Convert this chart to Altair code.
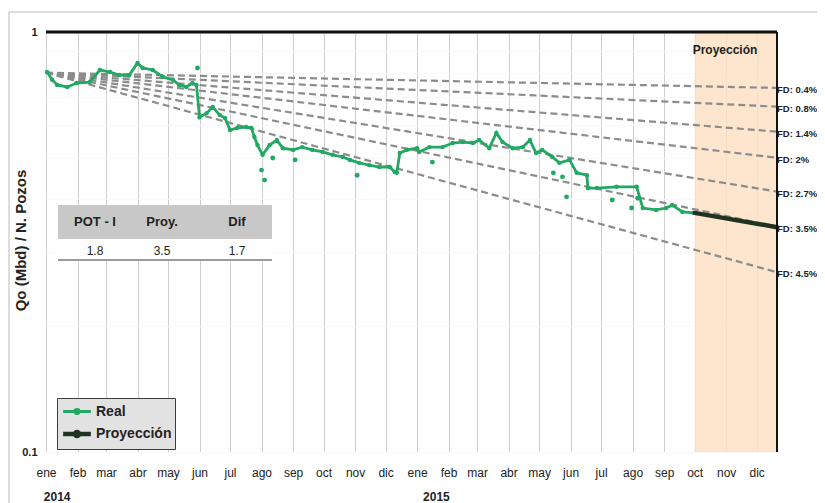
import altair as alt
import pandas as pd

# ---------------- data ----------------
months_es = ["ene", "feb", "mar", "abr", "may", "jun", "jul", "ago", "sep", "oct", "nov", "dic"]

real_dates = [
    "2014-01-02", "2014-01-07", "2014-01-12", "2014-01-22", "2014-01-31", "2014-02-13", "2014-02-23",
    "2014-03-05", "2014-03-14", "2014-03-24", "2014-04-01", "2014-04-06", "2014-04-16",
    "2014-04-26", "2014-05-06", "2014-05-12", "2014-05-19", "2014-05-25", "2014-05-29",
    "2014-06-01", "2014-06-08", "2014-06-14", "2014-06-21", "2014-06-26",
    "2014-07-01", "2014-07-08", "2014-07-17", "2014-07-22", "2014-07-25", "2014-07-28",
    "2014-08-02", "2014-08-09", "2014-08-16",
    "2014-08-22", "2014-09-01", "2014-09-10", "2014-09-20", "2014-09-30",
    "2014-10-10", "2014-10-20", "2014-10-27", "2014-11-05", "2014-11-15",
    "2014-11-25", "2014-12-05", "2014-12-10", "2014-12-12", "2014-12-15", "2014-12-22",
    "2015-01-01", "2015-01-03", "2015-01-13", "2015-01-26", "2015-02-05",
    "2015-02-15", "2015-02-25", "2015-03-03", "2015-03-13", "2015-03-20", "2015-03-26",
    "2015-04-05", "2015-04-15", "2015-04-22", "2015-04-28", "2015-05-04", "2015-05-14",
    "2015-05-21", "2015-05-31", "2015-06-07",
    "2015-06-17", "2015-06-18", "2015-06-27", "2015-07-16", "2015-08-05",
    "2015-08-11", "2015-08-24", "2015-09-03", "2015-09-09",
    "2015-09-19", "2015-09-30",
]
real_values = [
    0.803, 0.770, 0.748, 0.740, 0.756, 0.760, 0.812,
    0.803, 0.790, 0.790, 0.844, 0.821, 0.812,
    0.782, 0.769, 0.748, 0.740, 0.756, 0.748,
    0.627, 0.641, 0.663, 0.634, 0.624,
    0.584, 0.591, 0.594, 0.591, 0.562, 0.538,
    0.510, 0.538, 0.553,
    0.529, 0.524, 0.532, 0.524, 0.518,
    0.510, 0.504, 0.496, 0.488, 0.482,
    0.477, 0.477, 0.464, 0.462, 0.515, 0.524,
    0.529, 0.518, 0.532, 0.532, 0.544,
    0.547, 0.544, 0.553, 0.529, 0.575, 0.547,
    0.529, 0.532, 0.553, 0.515, 0.524, 0.504,
    0.488, 0.496, 0.462,
    0.456, 0.425, 0.425, 0.428, 0.428,
    0.381, 0.377, 0.381, 0.387,
    0.373, 0.371,
]

# isolated readings that sit away from the main trace
outlier_dates = [
    "2014-05-30", "2014-08-01", "2014-08-04", "2014-08-12", "2014-09-03", "2014-11-03",
    "2015-01-16", "2015-05-15", "2015-05-24", "2015-05-28", "2015-07-12", "2015-07-31",
    "2015-08-06",
]
outlier_values = [
    0.821, 0.469, 0.444, 0.501, 0.496, 0.456,
    0.490, 0.462, 0.452, 0.405, 0.398, 0.381,
    0.402,
]

proj_dates = ["2015-10-01", "2015-12-21"]
proj_values = [0.371, 0.343]

fd_labels = ["FD: 0.4%", "FD: 0.8%", "FD: 1.4%", "FD: 2%", "FD: 2.7%", "FD: 3.5%", "FD: 4.5%"]
fd_start_date = "2014-01-01"
fd_end_date = "2015-12-21"
fd_start_value = 0.80
fd_end_values = [0.736, 0.664, 0.579, 0.502, 0.417, 0.344, 0.268]

table_headers = ["POT - I", "Proy.", "Dif"]
table_values = ["1.8", "3.5", "1.7"]

years = ["2014", "2015"]
year_dates = ["2014-01-12", "2015-01-20"]

shade_start = "2015-10-01"
axis_end = "2015-12-21"

# ---------------- styling ----------------
W, H = 731, 420
GREEN = "#22a863"
DARK = "#1f3320"
FONT = "Liberation Sans, Arial, sans-serif"

ts = lambda s: pd.Timestamp(s)

real_df = pd.DataFrame({"fecha": [ts(d) for d in real_dates], "q": real_values, "serie": "Real"})
proj_df = pd.DataFrame({"fecha": [ts(d) for d in proj_dates], "q": proj_values, "serie": "Proyección"})
series_df = pd.concat([real_df, proj_df], ignore_index=True)
out_df = pd.DataFrame({"fecha": [ts(d) for d in outlier_dates], "q": outlier_values})

fd_rows = []
for lab, ev in zip(fd_labels, fd_end_values):
    fd_rows.append({"fecha": ts(fd_start_date), "q": fd_start_value, "fd": lab})
    fd_rows.append({"fecha": ts(fd_end_date), "q": ev, "fd": lab})
fd_df = pd.DataFrame(fd_rows)
fd_end_df = pd.DataFrame({"fecha": [ts(fd_end_date)] * len(fd_labels), "q": fd_end_values, "fd": fd_labels})

x_dom = [alt.DateTime(year=2014, month=1, date=1), alt.DateTime(year=2015, month=12, date=21)]
month_ticks = [alt.DateTime(year=y, month=m, date=1) for y in (2014, 2015) for m in range(1, 13)]
month_expr = "[" + ",".join("'%s'" % m for m in months_es) + "][month(datum.value)]"

xscale = alt.Scale(domain=x_dom)
yscale = alt.Scale(type="log", domain=[0.1, 1])

x_axis = alt.Axis(
    values=month_ticks, tickCount=40, labelExpr=month_expr, title=None, grid=True,
    gridColor="#cfcfcf", gridWidth=1, ticks=False, domain=False,
    labelFont=FONT, labelFontSize=12, labelColor="#222", labelPadding=20,
    labelFlush=False, labelOverlap=False, labelBaseline="middle",
)
y_axis = alt.Axis(
    values=[0.1, 0.2, 0.3, 0.4, 0.5, 0.6, 0.7, 0.8, 0.9, 1], tickCount=20,
    labelExpr="datum.value > 0.95 ? '1' : (datum.value < 0.15 ? '0.1' : '')",
    grid=True, gridColor="#f8f8f8", gridWidth=1, ticks=False, domain=False,
    labelFont=FONT, labelFontSize=11, labelFontWeight="bold", labelColor="#222",
    labelPadding=9,
    title="Qo (Mbd) / N. Pozos", titleFont=FONT,
    titleFontSize=15, titleFontWeight="bold", titleColor="#222",
    titleX=-18, titleY=H / 2 - 2, titleAngle=270, titleAlign="center", titleBaseline="bottom",
)

one = pd.DataFrame({"k": [0]})

# projection shaded area
shade = alt.Chart(pd.DataFrame({"a": [ts(shade_start)], "b": [ts(axis_end)]})).mark_rect(
    color="#fde1c6", opacity=0.85
).encode(
    x=alt.X("a:T", scale=xscale, axis=x_axis),
    x2="b:T",
    y=alt.value(0),
    y2=alt.value(H),
)

# invisible layer carrying the y axis
yaxis_layer = alt.Chart(fd_end_df).mark_point(opacity=0).encode(
    x=alt.X("fecha:T", scale=xscale),
    y=alt.Y("q:Q", scale=yscale, axis=y_axis),
)

fd_lines = alt.Chart(fd_df).mark_line(
    color="#8c8c8c", strokeDash=[7, 4], strokeWidth=2.2
).encode(
    x=alt.X("fecha:T", scale=xscale),
    y=alt.Y("q:Q", scale=yscale),
    detail="fd:N",
)

fd_text = alt.Chart(fd_end_df).mark_text(
    align="left", baseline="middle", dx=0, dy=2, font=FONT, fontSize=9.5,
    fontWeight="bold", color="#222",
).encode(
    x=alt.X("fecha:T", scale=xscale),
    y=alt.Y("q:Q", scale=yscale),
    text="fd:N",
)

legend_symbol = "M-1.6,0L1.6,0M-0.24,0a0.24,0.24 0 1,0 0.48,0a0.24,0.24 0 1,0 -0.48,0"
color_scale = alt.Scale(domain=["Real", "Proyección"], range=[GREEN, DARK])

series = alt.Chart(series_df).mark_line(
    point=alt.OverlayMarkDef(filled=True, size=20)
).encode(
    x=alt.X("fecha:T", scale=xscale),
    y=alt.Y("q:Q", scale=yscale),
    color=alt.Color(
        "serie:N", scale=color_scale,
        legend=alt.Legend(
            title=None, orient="none", legendX=11, legendY=366,
            fillColor="#e2e2e2", strokeColor="#3c3c3c", padding=3,
            symbolType=legend_symbol, symbolSize=300, symbolStrokeWidth=1.4,
            symbolOffset=6,
            labelFont=FONT, labelFontSize=14, labelFontWeight="bold",
            labelColor="#222", rowPadding=2, labelOffset=8,
        ),
    ),
    strokeWidth=alt.StrokeWidth(
        "serie:N", scale=alt.Scale(domain=["Real", "Proyección"], range=[2.8, 4.5]), legend=None
    ),
)

outliers = alt.Chart(out_df).mark_circle(color=GREEN, size=24, opacity=1).encode(
    x=alt.X("fecha:T", scale=xscale),
    y=alt.Y("q:Q", scale=yscale),
)

# "Proyección" header
proj_title = alt.Chart(one).mark_text(
    font=FONT, fontSize=12, fontWeight="bold", color="#222"
).encode(x=alt.value(679), y=alt.value(18), text=alt.value("Proyección"))

# year labels under the month labels
year_df = pd.DataFrame({"fecha": [ts(d) for d in year_dates], "y": years})
year_text = alt.Chart(year_df).mark_text(
    font=FONT, fontSize=12, fontWeight="bold", color="#222", baseline="middle"
).encode(x=alt.X("fecha:T", scale=xscale), y=alt.value(H + 45), text="y:N")

# summary table
tbl_left, tbl_right = 12, 226
hdr_top, hdr_bot, row_bot = 173, 207, 228
col_x = [49, 116, 191]
table_layers = [
    alt.Chart(one).mark_rect(color="#c8c8c8").encode(
        x=alt.value(tbl_left), x2=alt.value(tbl_right), y=alt.value(hdr_top), y2=alt.value(hdr_bot)),
    alt.Chart(one).mark_rect(color="#ffffff").encode(
        x=alt.value(tbl_left), x2=alt.value(tbl_right), y=alt.value(hdr_bot), y2=alt.value(row_bot)),
    alt.Chart(one).mark_rule(color="#9a9a9a", strokeWidth=2).encode(
        x=alt.value(tbl_left), x2=alt.value(tbl_right), y=alt.value(row_bot)),
]
for cx, h, v in zip(col_x, table_headers, table_values):
    table_layers.append(alt.Chart(one).mark_text(
        font=FONT, fontSize=13, fontWeight="bold", color="#222").encode(
        x=alt.value(cx), y=alt.value((hdr_top + hdr_bot) / 2), text=alt.value(h)))
    table_layers.append(alt.Chart(one).mark_text(
        font=FONT, fontSize=12, color="#222").encode(
        x=alt.value(cx), y=alt.value((hdr_bot + row_bot) / 2 + 1), text=alt.value(v)))

# plot frame: black top and right edges, outer light frame of the chart
frame = [
    alt.Chart(one).mark_rule(color="#111", strokeWidth=3).encode(
        x=alt.value(0), x2=alt.value(W), y=alt.value(0)),
    alt.Chart(one).mark_rule(color="#111", strokeWidth=2).encode(
        x=alt.value(W), y=alt.value(0), y2=alt.value(H)),
    alt.Chart(one).mark_rule(color="#d2d2d2", strokeWidth=1.5).encode(
        x=alt.value(-37), x2=alt.value(W + 60), y=alt.value(-20)),
    alt.Chart(one).mark_rule(color="#d2d2d2", strokeWidth=1.5).encode(
        x=alt.value(-37), y=alt.value(-20), y2=alt.value(H + 80)),
]

chart = alt.layer(
    shade, yaxis_layer, fd_lines, outliers, series, fd_text, proj_title, year_text,
    *table_layers, *frame,
).properties(
    width=W, height=H,
    autosize=alt.AutoSizeParams(type="none"),
    padding={"left": 38, "top": 24, "right": 40, "bottom": 51},
).configure_view(
    fill="#ebebeb", stroke="#3c3c3c", strokeWidth=2
).configure(background="white")

chart.save("out.html", embed_options={"renderer": "svg", "actions": False})
